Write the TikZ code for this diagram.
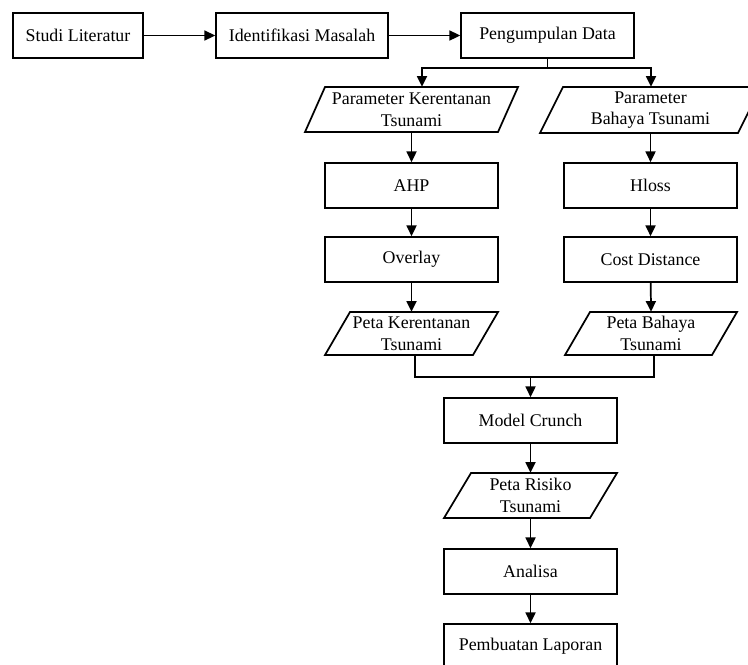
\documentclass[tikz,border=0pt]{standalone}
\usepackage{fontspec}
\setmainfont{Liberation Serif}
\usetikzlibrary{arrows.meta,calc}
\tikzset{
  box/.style={draw, line width=1.3pt, rectangle, minimum width=129.75pt, minimum height=33.75pt, inner sep=1pt, align=center},
  paranode/.style={draw=none, rectangle, inner sep=0pt, align=center},
  paraline/.style={line width=1.3pt, line join=miter},
  conn/.style={line width=1.3pt, -{Triangle[length=8pt,width=7.5pt]}},
  plain/.style={line width=1.3pt, line cap=rect},
}
% \para{name}{cx}{cy}{w}{s}{h}{text}  (pixel units)
\newcommand{\para}[7]{%
  \draw[paraline] ({#2-#4/2+#5/2},{#3-#6/2}) -- ({#2+#4/2+#5/2},{#3-#6/2})
     -- ({#2+#4/2-#5/2},{#3+#6/2}) -- ({#2-#4/2-#5/2},{#3+#6/2}) -- cycle;
  \node[paranode, minimum width={#4*0.75pt}, minimum height={#6*0.75pt}] (#1) at (#2,#3) {#7};
}
\begin{document}
\begin{tikzpicture}[x=0.75pt,y=-0.75pt, font=\fontsize{13.4}{16.3}\selectfont]
\clip (0,0) rectangle (748,664);
\fill[white] (0,0) rectangle (748,664);
% top row
\node[box, minimum width=97.5pt] (studi) at (78,35.5) {Studi Literatur};
\node[box, minimum width=129pt] (ident) at (302,35.5) {Identifikasi Masalah};
\node[box] (kumpul) at (547.5,35.5) {Pengumpulan Data};
\draw[conn] (studi) -- (ident);
\draw[conn] (ident) -- (kumpul);
% parameters
\para{pk}{411.5}{109.5}{193}{20}{45}{Parameter Kerentanan\\Tsunami}
\para{pb}{650.5}{110}{198}{23}{46}{Parameter\\Bahaya Tsunami}
\coordinate (br) at (547.5,68);
\coordinate (bl) at (422,68);
\coordinate (brr) at (651,68);
\draw[plain] (kumpul.south) -- (br);
\draw[conn] (br) -| (pk.north -| bl);
\draw[conn] (br) -| (pb.north -| brr);
% left column
\node[box] (ahp) at (411.5,185.5) {AHP};
\node[box] (overlay) at (411.5,259.5) {Overlay};
\para{petak}{411.5}{333.5}{148}{25}{43}{Peta Kerentanan\\Tsunami}
\draw[conn] (pk.south) -- (ahp.north);
\draw[conn] (ahp) -- (overlay);
\draw[conn] (overlay) -- (petak.north);
% right column
\node[box] (hloss) at (650.5,185.5) {Hloss};
\node[box] (cost) at (650.5,259.5) {Cost Distance};
\para{petab}{651}{333.5}{147}{25}{43}{Peta Bahaya\\Tsunami}
\draw[conn] (pb.south) -- (hloss.north);
\draw[conn] (hloss) -- (cost);
\draw[conn] (cost) -- (petab.north);
% merge
\node[box] (crunch) at (530.5,420.5) {Model Crunch};
\coordinate (ml) at (415,377);
\coordinate (mr) at (654,377);
\coordinate (mc) at (530.5,377);
\draw[plain, line join=miter] (petak.south -| ml) -- (ml) -- (mr) -- (petab.south -| mr);
\draw[conn] (mc) -- (crunch.north);
% bottom
\para{risiko}{530.5}{495.5}{146}{27}{45}{Peta Risiko\\Tsunami}
\node[box] (analisa) at (530.5,571.5) {Analisa};
\node[box] (laporan) at (530.5,646.5) {Pembuatan Laporan};
\draw[conn] (crunch) -- (risiko.north);
\draw[conn] (risiko.south) -- (analisa.north);
\draw[conn] (analisa) -- (laporan);
\end{tikzpicture}
\end{document}
